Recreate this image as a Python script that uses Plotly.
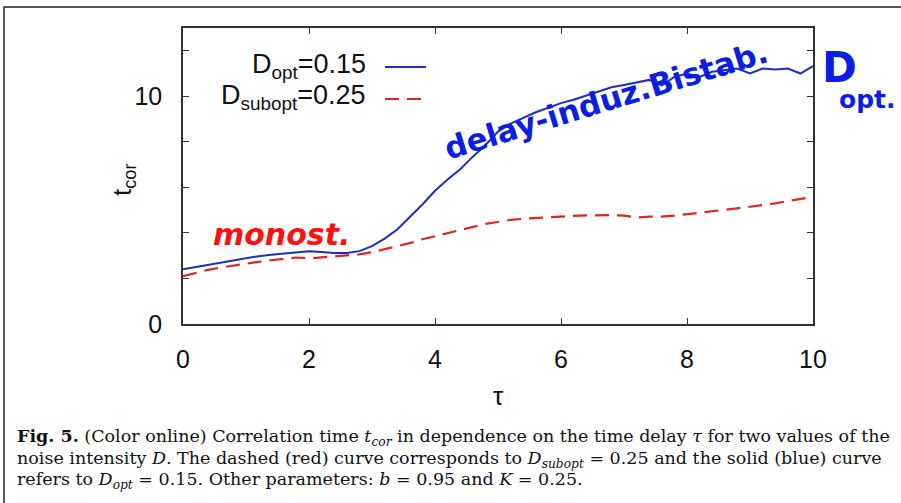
import numpy as np
import plotly.graph_objects as go

tau = [round(0.2 * i, 1) for i in range(51)]

t_opt = [2.40, 2.50, 2.60, 2.70, 2.80, 2.90, 2.98, 3.04, 3.10, 3.15,
         3.20, 3.16, 3.12, 3.12, 3.20, 3.42, 3.75, 4.15, 4.70, 5.25,
         5.85, 6.35, 6.80, 7.35, 7.85, 8.45, 8.80, 9.05, 9.30, 9.50,
         9.70, 9.85, 10.04, 10.20, 10.40, 10.50, 10.60, 10.72, 10.48, 10.85,
         11.00, 10.85, 11.08, 11.15, 11.22, 11.00, 11.22, 11.18, 11.22, 11.00,
         11.33]

t_subopt = [2.10, 2.25, 2.38, 2.48, 2.57, 2.65, 2.73, 2.80, 2.86, 2.92,
            2.88, 2.93, 2.96, 3.00, 3.06, 3.15, 3.28, 3.40, 3.55, 3.72,
            3.85, 3.98, 4.12, 4.25, 4.40, 4.48, 4.57, 4.62, 4.66, 4.70,
            4.72, 4.75, 4.77, 4.78, 4.78, 4.76, 4.68, 4.72, 4.72, 4.76,
            4.82, 4.88, 4.93, 5.00, 5.08, 5.15, 5.22, 5.30, 5.40, 5.50,
            5.58]

x_ticks = [0, 2, 4, 6, 8, 10]
y_ticks = [0, 2, 4, 6, 8, 10, 12]
y_ticktext = ["0", "", "", "", "", "10", ""]

BLUE = "#1c2fc4"
RED = "#e0241f"

W, H = 901, 503
ML, MR, MT, MB = 183, 88, 28, 179
PW, PH = W - ML - MR, H - MT - MB


def px(x):
    return (x - ML) / PW


def py(y):
    return (H - MB - y) / PH


fig = go.Figure()
fig.add_trace(go.Scatter(x=tau, y=t_opt, mode="lines", name="D_opt=0.15",
                         line=dict(color=BLUE, width=2), showlegend=False))
fig.add_trace(go.Scatter(x=tau, y=t_subopt, mode="lines", name="D_subopt=0.25",
                         line=dict(color=RED, width=2.2, dash="14px,8px"),
                         showlegend=False))

SANS = "Liberation Sans, Arial"
axis_common = dict(showgrid=False, zeroline=False, showline=True, linecolor="#333",
                   linewidth=1.5, mirror="ticks", ticks="inside", ticklen=6,
                   tickcolor="#333", tickwidth=1.2,
                   tickfont=dict(family=SANS, size=25, color="#111"))

fig.update_xaxes(range=[0, 10], tickvals=x_ticks, ticktext=[str(v) for v in x_ticks],
                 ticklabelstandoff=12, **axis_common)
fig.update_yaxes(range=[0, 13], tickvals=y_ticks, ticktext=y_ticktext,
                 ticklabelstandoff=14, **axis_common)


def ann(x, y, text, font, xanchor="center", **kw):
    return dict(x=px(x), y=py(y), xref="paper", yref="paper", text=text,
                showarrow=False, xanchor=xanchor, yanchor="middle", font=font, **kw)


anns = []
# axis titles
anns.append(ann(498, 396, "τ", dict(family=SANS, size=26, color="#111")))
anns.append(ann(123, 180, "t<sub>cor</sub>", dict(family=SANS, size=26, color="#111"),
                textangle=-90))
# legend texts
anns.append(ann(368, 66, "D<sub>opt</sub>=0.15", dict(family=SANS, size=27, color="#111"),
                xanchor="right"))
anns.append(ann(368, 97, "D<sub>subopt</sub>=0.25", dict(family=SANS, size=27, color="#111"),
                xanchor="right"))
# handwritten notes
anns.append(ann(281, 234, "<b><i>monost.</i></b>",
                dict(family="DejaVu Sans", size=30, color="#ff1010")))
anns.append(ann(606, 100, "<b>delay-induz.Bistab.</b>",
                dict(family="DejaVu Sans", size=31, color="#0a1ee6"), textangle=-17))
anns.append(ann(839, 67, "<b>D</b>",
                dict(family="DejaVu Sans", size=42, color="#0a1ee6")))
anns.append(ann(867, 99, "<b>opt.</b>",
                dict(family="DejaVu Sans", size=25, color="#0a1ee6")))
# caption
cap_font = dict(family="DejaVu Serif", size=17.5, color="#111")
captions = [
    "<b>Fig. 5.</b> (Color online) Correlation time <i>t<sub>cor</sub></i> in dependence on the time delay <i>τ</i> for two values of the",
    "noise intensity <i>D</i>. The dashed (red) curve corresponds to <i>D<sub>subopt</sub></i> = 0.25 and the solid (blue) curve",
    "refers to <i>D<sub>opt</sub></i> = 0.15. Other parameters: <i>b</i> = 0.95 and <i>K</i> = 0.25.",
]
for i, c in enumerate(captions):
    anns.append(ann(15, 437 + 22 * i, c, cap_font, xanchor="left"))

shapes = [
    dict(type="line", xref="paper", yref="paper", x0=px(385), x1=px(426), y0=py(67), y1=py(67),
         line=dict(color=BLUE, width=2)),
    dict(type="line", xref="paper", yref="paper", x0=px(385), x1=px(426), y0=py(99), y1=py(99),
         line=dict(color=RED, width=2.2, dash="14px,8px")),
    dict(type="rect", xref="paper", yref="paper", x0=px(4), x1=px(920), y0=py(7), y1=py(510),
         line=dict(color="#222", width=1.5), layer="below"),
]

fig.update_layout(width=W, height=H, margin=dict(l=ML, r=MR, t=MT, b=MB),
                  paper_bgcolor="white", plot_bgcolor="white",
                  annotations=anns, shapes=shapes, showlegend=False)

fig.write_html("out.html", config={"displayModeBar": False},
               post_script="document.body.style.margin='0';document.body.style.overflow='hidden';")
